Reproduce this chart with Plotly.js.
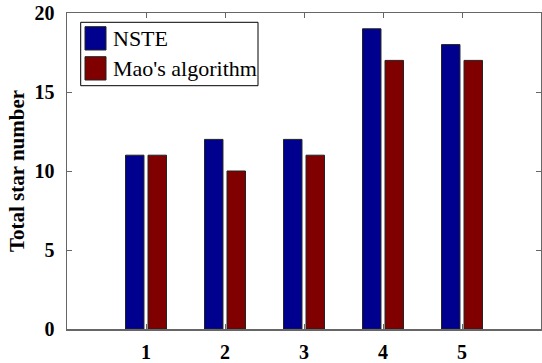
<!DOCTYPE html>
<html>
<head>
<meta charset="utf-8">
<script src="https://cdn.plot.ly/plotly-3.0.1.min.js"></script>
<style>html,body{margin:0;padding:0;background:#fff;}#chart{width:542px;height:363px;}</style>
</head>
<body>
<div id="chart"></div>
<script>
const categories = [1, 2, 3, 4, 5];
const seriesNames = ["NSTE", "Mao's algorithm"];
const nsteValues = [11, 12, 12, 19, 18];
const maoValues = [11, 10, 11, 17, 17];
const yTickValues = [0, 5, 10, 15, 20];
const colors = ["#00008F", "#800000"];

const W = 542, H = 363;
const m = {l: 67, r: 1, t: 13, b: 34};
const pw = W - m.l - m.r, ph = H - m.t - m.b;
const px = v => (v - m.l) / pw;
const py = v => (H - m.b - v) / ph;
const serif = '"Liberation Serif", "Times New Roman", serif';

const traces = [nsteValues, maoValues].map((vals, i) => ({
  type: 'bar', x: categories, y: vals, name: seriesNames[i],
  marker: {color: colors[i], line: {color: '#222', width: 1}},
  hoverinfo: 'none'
}));

const shapes = [
  {type: 'rect', xref: 'paper', yref: 'paper', x0: px(80.7), x1: px(258), y0: py(85.7), y1: py(22.3),
   line: {color: '#000', width: 1}, fillcolor: '#fff'},
  {type: 'rect', xref: 'paper', yref: 'paper', x0: px(85), x1: px(106), y0: py(50), y1: py(26.7),
   line: {color: '#222', width: 1}, fillcolor: colors[0]},
  {type: 'rect', xref: 'paper', yref: 'paper', x0: px(85), x1: px(106), y0: py(80), y1: py(56.7),
   line: {color: '#222', width: 1}, fillcolor: colors[1]}
];
const annotations = seriesNames.map((n, i) => ({
  xref: 'paper', yref: 'paper', x: px(111), y: py(i === 0 ? 38.5 : 68.5),
  xanchor: 'left', yanchor: 'middle', text: n, showarrow: false,
  font: {family: serif, size: 22, color: '#000'}
}));

const axisCommon = {
  showgrid: false, zeroline: false, showline: true, linecolor: '#666', linewidth: 1.5,
  mirror: 'ticks', ticks: 'inside', ticklen: 5, tickcolor: '#666', tickwidth: 1,
  tickfont: {family: serif, size: 20, color: '#000', weight: 'bold'}
};

const layout = {
  width: W, height: H, margin: m,
  paper_bgcolor: '#fff', plot_bgcolor: '#fff',
  showlegend: false,
  barmode: 'group', bargap: 0.43, bargroupgap: 0.18,
  xaxis: Object.assign({}, axisCommon, {range: [0, 6], tickvals: categories, ticktext: categories.map(String), ticklabelstandoff: 4}),
  yaxis: Object.assign({}, axisCommon, {range: [0, 20], tickvals: yTickValues, ticklabelstandoff: 7,
    title: {text: 'Total star number', standoff: 4,
      font: {family: serif, size: 21, color: '#000', weight: 'bold'}}}),
  shapes: shapes, annotations: annotations
};

Plotly.newPlot('chart', traces, layout, {staticPlot: true, displayModeBar: false});
</script>
</body>
</html>
